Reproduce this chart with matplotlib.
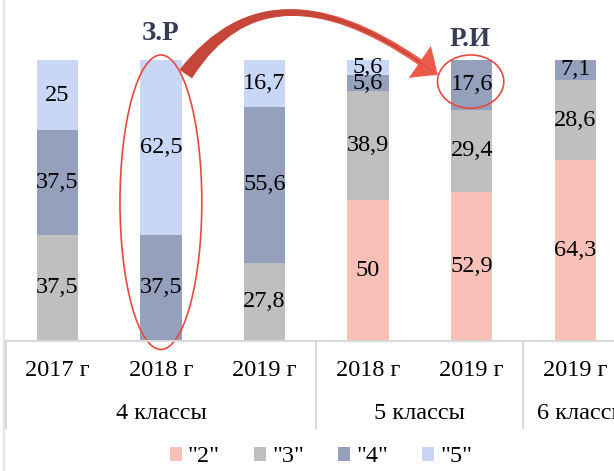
import numpy as np
import matplotlib
matplotlib.use("Agg")
import matplotlib.pyplot as plt
from matplotlib.patches import Ellipse, FancyArrowPatch, Patch
from matplotlib.lines import Line2D

plt.rcParams['font.family'] = ['Liberation Serif', 'DejaVu Serif']

# data (percent of grades per class/year)
years = ["2017 г", "2018 г", "2019 г", "2018 г", "2019 г", "2019 г"]
groups = ["4 классы", "5 классы", "6 классы"]
grade_names = ['"2"', '"3"', '"4"', '"5"']
g2 = [0, 0, 0, 50, 52.9, 64.3]
g3 = [37.5, 0, 27.8, 38.9, 29.4, 28.6]
g4 = [37.5, 37.5, 55.6, 5.6, 17.6, 7.1]
g5 = [25, 62.5, 16.7, 5.6, 0, 0]
colors = ['#F8C0B7', '#BFBFBF', '#95A0BD', '#C9D7F6']

W, H = 614, 471
fig = plt.figure(figsize=(W / 100, H / 100), dpi=100)
ax = fig.add_axes([5.5 / W, (H - 340.5) / H, 621.6 / W, 280.5 / H])

x = np.arange(len(years))
bottom = np.zeros(len(years))
for vals, col in zip([g2, g3, g4, g5], colors):
    vals = np.array(vals, dtype=float)
    ax.bar(x, vals, 0.4, bottom=bottom, color=col, linewidth=0)
    for xi, b, v in zip(x, bottom, vals):
        if v > 0:
            s = f"{v:g}".replace('.', ',')
            ax.text(xi, b + v / 2, s, ha='center', va='center', fontsize=17.5, color='black')
    bottom += vals

ax.set_xlim(-0.5, len(years) - 0.5)
ax.set_ylim(0, 100)
ax.set_xticks([])
ax.set_yticks([])
for s in ['top', 'right', 'left']:
    ax.spines[s].set_visible(False)
ax.spines['bottom'].set_color('#D9D9D9')
ax.spines['bottom'].set_linewidth(1.5)

# category labels below the axis
tr = ax.get_xaxis_transform()
for xi, lab in zip(x, years):
    ax.text(xi, -0.107, lab, transform=tr, ha='center', va='center', fontsize=17.5, clip_on=False)
group_pos = [1.0, 3.5, 5.07]
for gx, lab in zip(group_pos, groups):
    ax.text(gx, -0.262, lab, transform=tr, ha='center', va='center', fontsize=17.5, clip_on=False)
for sx in [-0.5, 2.5, 4.5]:
    ax.add_line(Line2D([sx, sx], [0, -0.312], transform=tr, color='#D9D9D9', lw=1.5, clip_on=False))

# chart frame at the left
fig.add_artist(Line2D([3.5 / W, 3.5 / W], [0, 1], color='#E3E3E3', lw=1.5))

# annotations
ax.add_patch(Ellipse((1.0, 49.3), 0.79, 105, fill=False, edgecolor='#E8493D', lw=1.2, clip_on=False))
ax.add_patch(Ellipse((3.99, 92.3), 0.64, 19, fill=False, edgecolor='#E8493D', lw=1.2, clip_on=False))
ax.text(1.0, 109.3, "З.Р", ha='center', va='center', fontsize=19.5, fontweight='bold',
        color='#363B58', clip_on=False)
ax.text(3.98, 107.3, "Р.И", ha='center', va='center', fontsize=19.5, fontweight='bold',
        color='#363B58', clip_on=False)

conn = "angle3,angleA=55,angleB=143"
start, end = (1.24, 95.0), (3.673, 94.65)
arrow = FancyArrowPatch(start, end, connectionstyle=conn,
                        arrowstyle="simple,head_length=16,head_width=28,tail_width=4.6",
                        color='#EE5A4A', shrinkA=0, shrinkB=0, clip_on=False, lw=0)
ax.add_patch(arrow)
wedge = FancyArrowPatch(start, end, connectionstyle=conn,
                        arrowstyle="wedge,tail_width=11,shrink_factor=0.42",
                        color='#C6463A', shrinkA=0, shrinkB=0, clip_on=False, lw=0)
ax.add_patch(wedge)

handles = [Patch(facecolor=c, edgecolor='none') for c in colors]
fig.legend(handles, grade_names, loc='center', bbox_to_anchor=(321 / W, (H - 457) / H),
           ncol=4, frameon=False, fontsize=17.5, handlelength=0.5, handleheight=0.5,
           handletextpad=0.25, columnspacing=1.4, borderpad=0, borderaxespad=0)

fig.savefig("out.png", dpi=100)
